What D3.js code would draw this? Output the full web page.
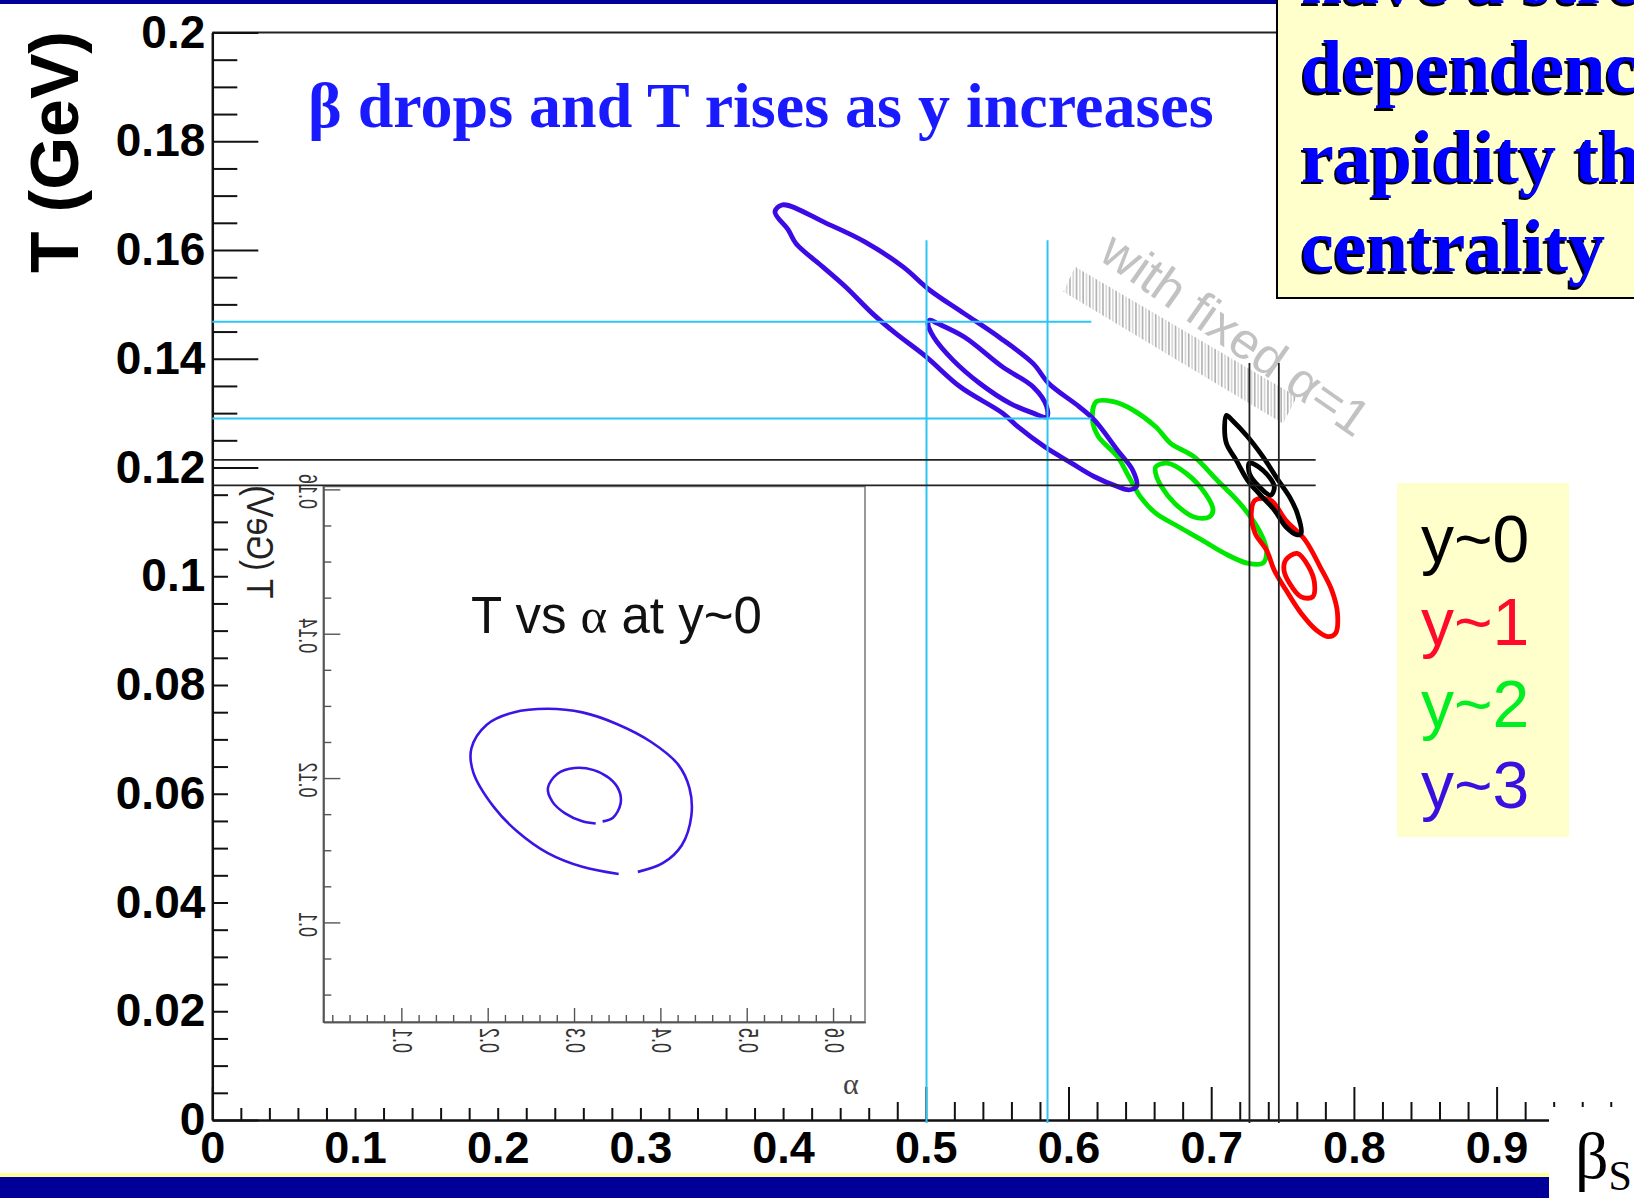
<!DOCTYPE html>
<html>
<head>
<meta charset="utf-8">
<script src="https://cdn.jsdelivr.net/npm/d3@7"></script>
<style>
  body { margin: 0; background: #fff; }
  svg { display: block; }
</style>
</head>
<body>
<div id="container"></div>
<script>
// ---- data (beta_s, T) ----
const yTickValues = [0, 0.02, 0.04, 0.06, 0.08, 0.1, 0.12, 0.14, 0.16, 0.18, 0.2];
const yTickLabels = ["0", "0.02", "0.04", "0.06", "0.08", "0.1", "0.12", "0.14", "0.16", "0.18", "0.2"];
const xTickValues = [0, 0.1, 0.2, 0.3, 0.4, 0.5, 0.6, 0.7, 0.8, 0.9];
const xTickLabels = ["0", "0.1", "0.2", "0.3", "0.4", "0.5", "0.6", "0.7", "0.8", "0.9"];

// y~3 (blue)
const y3Outer = [[0.3943,0.1670],[0.3996,0.1683],[0.4304,0.1649],[0.4573,0.1615],[0.4841,0.1569],[0.5029,0.1526],
  [0.5270,0.1483],[0.5512,0.1440],[0.5753,0.1391],[0.5860,0.1355],[0.6074,0.1312],[0.6182,0.1287],[0.6343,0.1232],
  [0.6450,0.1195],[0.6477,0.1165],[0.6423,0.1159],[0.6343,0.1165],[0.6182,0.1183],[0.6021,0.1208],[0.5833,0.1238],
  [0.5645,0.1275],[0.5538,0.1300],[0.5243,0.1348],[0.5001,0.1404],[0.4787,0.1447],[0.4627,0.1483],[0.4439,0.1532],
  [0.4278,0.1569],[0.4090,0.1612],[0.4036,0.1637]];
const y3Inner = [[0.5029,0.1471],[0.5082,0.1465],[0.5270,0.1440],[0.5538,0.1385],[0.5753,0.1348],[0.5847,0.1312],
  [0.5847,0.1293],[0.5753,0.1300],[0.5591,0.1318],[0.5377,0.1355],[0.5189,0.1398],[0.5055,0.1440],[0.5015,0.1465]];
// y~2 (green)
const y2Outer = [[0.6195,0.1321],[0.6316,0.1321],[0.6450,0.1306],[0.6611,0.1275],[0.6718,0.1244],[0.6879,0.1220],
  [0.7040,0.1177],[0.7201,0.1134],[0.7335,0.1085],[0.7388,0.1048],[0.7362,0.1024],[0.7254,0.1024],[0.7094,0.1042],
  [0.6933,0.1067],[0.6772,0.1091],[0.6611,0.1116],[0.6504,0.1146],[0.6423,0.1183],[0.6343,0.1220],[0.6209,0.1257],
  [0.6168,0.1287]];
const y2Inner = [[0.6611,0.1201],[0.6692,0.1208],[0.6826,0.1189],[0.6959,0.1152],[0.7013,0.1122],[0.6986,0.1109],
  [0.6879,0.1109],[0.6745,0.1134],[0.6651,0.1165],[0.6611,0.1189]];
// y~1 (red)
const y1Outer = [[0.7308,0.1140],[0.7416,0.1140],[0.7523,0.1103],[0.7657,0.1067],[0.7764,0.1017],[0.7844,0.0975],
  [0.7885,0.0932],[0.7871,0.0895],[0.7818,0.0889],[0.7737,0.0901],[0.7630,0.0932],[0.7523,0.0975],[0.7442,0.1011],
  [0.7388,0.1048],[0.7308,0.1079],[0.7281,0.1116]];
const y1Inner = [[0.7523,0.1030],[0.7603,0.1042],[0.7684,0.1017],[0.7724,0.0987],[0.7711,0.0962],[0.7630,0.0962],
  [0.7549,0.0987],[0.7510,0.1011]];
// y~0 (black)
const y0Outer = [[0.7107,0.1296],[0.7147,0.1287],[0.7254,0.1257],[0.7362,0.1220],[0.7469,0.1177],[0.7549,0.1146],
  [0.7603,0.1116],[0.7630,0.1079],[0.7603,0.1076],[0.7523,0.1091],[0.7442,0.1122],[0.7335,0.1152],[0.7254,0.1177],
  [0.7174,0.1214],[0.7107,0.1244],[0.7094,0.1275]];
const y0Inner = [[0.7268,0.1208],[0.7362,0.1195],[0.7442,0.1165],[0.7416,0.1149],[0.7335,0.1165],[0.7268,0.1189]];

// reference lines
const cyanT = [0.1468, 0.1290];
const cyanTEnd = 0.616;
const cyanBeta = [0.5005, 0.5853];
const cyanBetaTop = 0.1618;
const blackT = [0.1214, 0.1167];
const blackTEnd = 0.7732;
const blackBeta = [0.7268, 0.7474];
const blackBetaTop = 0.1392;

// legend
const legendLabels = ["y~0", "y~1", "y~2", "y~3"];
const legendColors = ["#000000", "#ff0a2a", "#00ee22", "#3a10e0"];

// inset: T vs alpha at y~0
const insetAlphaTicks = [0.1, 0.2, 0.3, 0.4, 0.5, 0.6];
const insetAlphaLabels = ["0.1", "0.2", "0.3", "0.4", "0.5", "0.6"];
const insetTTicks = [0.1, 0.12, 0.14, 0.16];
const insetTLabels = ["0.1", "0.12", "0.14", "0.16"];
const insetOuter = [[0.3739,0.1070],[0.4027,0.1082],[0.4248,0.1107],[0.4359,0.1148],[0.4337,0.1186],[0.4204,0.1219],
  [0.3894,0.1250],[0.3495,0.1275],[0.3096,0.1291],[0.2697,0.1296],[0.2298,0.1291],[0.1989,0.1274],[0.1811,0.1241],
  [0.1833,0.1208],[0.2077,0.1159],[0.2343,0.1126],[0.2697,0.1096],[0.3096,0.1077],[0.3517,0.1067]];
const insetInner = [[0.3331,0.1140],[0.3451,0.1145],[0.3540,0.1165],[0.3517,0.1184],[0.3406,0.1200],[0.3229,0.1211],
  [0.3008,0.1214],[0.2809,0.1206],[0.2697,0.1186],[0.2751,0.1167],[0.2897,0.1151],[0.3096,0.1140],[0.3251,0.1137]];

// annotation band (beta, T corners) and text anchor
const bandCorners = [[0.6046,0.1569],[0.7601,0.1330],[0.7503,0.1281],[0.5964,0.1523]];
const noteAnchor = [0.6200, 0.1585];

const SANS = "'Liberation Sans', Arial, Helvetica, sans-serif";
const SERIF = "'Liberation Serif', 'Times New Roman', serif";

const W = 1634, H = 1198;
const svg = d3.select('#container').append('svg').attr('width', W).attr('height', H);
svg.append('rect').attr('width', W).attr('height', H).attr('fill', '#fff');

const x = d3.scaleLinear().domain([0, 1]).range([212.3, 1639.3]);
const y = d3.scaleLinear().domain([0, 0.2]).range([1120, 32.5]);

// top navy band
svg.append('rect').attr('x', 0).attr('y', 0).attr('width', W).attr('height', 4).attr('fill', '#000099');

// frame top
svg.append('line').attr('x1', x(0)).attr('x2', x(1)).attr('y1', y(0.2)).attr('y2', y(0.2))
  .attr('stroke', '#222').attr('stroke-width', 2);

// y axis
const yMinor = d3.range(0, 0.2001, 0.005).filter(v => Math.abs(v / 0.02 - Math.round(v / 0.02)) > 0.01);
const gyMinor = svg.append('g').attr('transform', `translate(${x(0)},0)`)
  .call(d3.axisLeft(y).tickValues(yMinor).tickSizeInner(-25).tickSizeOuter(0).tickFormat(''));
gyMinor.select('.domain').remove();
const gy = svg.append('g').attr('transform', `translate(${x(0)},0)`)
  .call(d3.axisLeft(y).tickValues(yTickValues).tickSizeInner(-46).tickSizeOuter(0).tickPadding(7)
    .tickFormat((d, i) => yTickLabels[i]));
gy.selectAll('text').attr('font-family', SANS).attr('font-weight', 'bold').attr('font-size', 46).attr('fill', '#000');

// x axis
const xMinor = d3.range(0, 1.0001, 0.02).filter(v => Math.abs(v / 0.1 - Math.round(v / 0.1)) > 0.01);
const gxMinor = svg.append('g').attr('transform', `translate(0,${y(0)})`)
  .call(d3.axisBottom(x).tickValues(xMinor).tickSizeInner(-18).tickSizeOuter(0).tickFormat(''));
gxMinor.select('.domain').remove();
const gx = svg.append('g').attr('transform', `translate(0,${y(0)})`)
  .call(d3.axisBottom(x).tickValues(xTickValues).tickSizeInner(-33).tickSizeOuter(0).tickPadding(11)
    .tickFormat((d, i) => xTickLabels[i]));
gx.selectAll('text').attr('font-family', SANS).attr('font-weight', 'bold').attr('font-size', 45).attr('fill', '#000');

[gy, gx, gyMinor, gxMinor].forEach(g => {
  g.selectAll('.tick line').attr('stroke', '#111').attr('stroke-width', 2);
  g.select('.domain').attr('stroke', '#111').attr('stroke-width', 2.5);
});

// y axis title
svg.append('text').attr('transform', 'translate(78,152) rotate(-90)')
  .attr('text-anchor', 'middle').attr('font-family', SANS).attr('font-weight', 'bold')
  .attr('font-size', 68).text('T (GeV)');

// ---- inset ----
svg.append('rect').attr('x', 228).attr('y', 487).attr('width', 652).attr('height', 621).attr('fill', '#fff');
const xi = d3.scaleLinear().domain([0.0096, 0.637]).range([323.3, 865]);
const ti = d3.scaleLinear().domain([0.0862, 0.1604]).range([1022, 486.5]);

svg.append('rect').attr('x', xi(0.0096)).attr('y', ti(0.1604))
  .attr('width', xi(0.637) - xi(0.0096)).attr('height', ti(0.0862) - ti(0.1604))
  .attr('fill', 'none').attr('stroke', '#777').attr('stroke-width', 1.5);

const aMinor = d3.range(0.02, 0.63, 0.02).filter(v => Math.abs(v / 0.1 - Math.round(v / 0.1)) > 0.01);
const tMinor = d3.range(0.09, 0.1601, 0.005).filter(v => Math.abs(v / 0.02 - Math.round(v / 0.02)) > 0.01);
const insetAxes = [
  svg.append('g').attr('transform', `translate(0,${ti(0.0862)})`)
    .call(d3.axisBottom(xi).tickValues(aMinor).tickSizeInner(-7).tickSizeOuter(0).tickFormat('')),
  svg.append('g').attr('transform', `translate(0,${ti(0.0862)})`)
    .call(d3.axisBottom(xi).tickValues(insetAlphaTicks).tickSizeInner(-14).tickSizeOuter(0).tickFormat('')),
  svg.append('g').attr('transform', `translate(${xi(0.0096)},0)`)
    .call(d3.axisLeft(ti).tickValues(tMinor).tickSizeInner(-8).tickSizeOuter(0).tickFormat('')),
  svg.append('g').attr('transform', `translate(${xi(0.0096)},0)`)
    .call(d3.axisLeft(ti).tickValues(insetTTicks).tickSizeInner(-17).tickSizeOuter(0).tickFormat(''))
];
insetAxes.forEach(g => {
  g.selectAll('.tick line').attr('stroke', '#555').attr('stroke-width', 1.4);
  g.select('.domain').attr('stroke', '#555').attr('stroke-width', 1.6);
});

// mirrored (transposed) labels of the pasted inset picture
svg.append('g').selectAll('text').data(insetAlphaTicks).join('text')
  .attr('transform', d => `matrix(0,-1,-1.5,0,${xi(d) - 8},1040.5)`)
  .attr('text-anchor', 'middle').attr('font-family', SANS).attr('font-size', 18).attr('fill', '#333')
  .text((d, i) => insetAlphaLabels[i]);
svg.append('g').selectAll('text').data(insetTTicks).join('text')
  .attr('transform', d => `matrix(0,-1,-1.4,0,299,${ti(d) + 2})`)
  .attr('text-anchor', 'middle').attr('font-family', SANS).attr('font-size', 18).attr('fill', '#333')
  .text((d, i) => insetTLabels[i]);
svg.append('text').attr('transform', 'matrix(0,-1,-1.15,0,247,542)')
  .attr('text-anchor', 'middle').attr('font-family', SANS).attr('font-size', 32).attr('fill', '#222')
  .text('T (GeV)');
svg.append('text').attr('x', 843).attr('y', 1094).attr('font-family', SERIF).attr('font-size', 30)
  .attr('fill', '#444').text('α');
const insetTitle = svg.append('text').attr('x', 471).attr('y', 633).attr('font-family', SANS).attr('font-size', 51)
  .attr('fill', '#111');
insetTitle.append('tspan').text('T vs ');
insetTitle.append('tspan').attr('font-family', SERIF).text('α');
insetTitle.append('tspan').text(' at y~0');

const insetLine = d3.line().x(d => xi(d[0])).y(d => ti(d[1])).curve(d3.curveCatmullRom.alpha(0.5));
[insetOuter, insetInner].forEach(c => {
  svg.append('path').attr('d', insetLine(c)).attr('fill', 'none')
    .attr('stroke', '#3c14e6').attr('stroke-width', 2.6);
});

// ---- annotation: with fixed alpha=1 ----
const bandPts = bandCorners.map(d => [x(d[0]), y(d[1])]);
svg.append('clipPath').attr('id', 'bandClip').append('polygon').attr('points', bandPts.map(p => p.join(',')).join(' '));
const bx0 = d3.min(bandPts, p => p[0]), bx1 = d3.max(bandPts, p => p[0]);
const by0 = d3.min(bandPts, p => p[1]), by1 = d3.max(bandPts, p => p[1]);
svg.append('g').attr('clip-path', 'url(#bandClip)').selectAll('line')
  .data(d3.range(bx0, bx1, 3.3)).join('line')
  .attr('x1', d => d).attr('x2', d => d).attr('y1', by0).attr('y2', by1)
  .attr('stroke', (d, i) => i % 2 ? '#d6d6d6' : '#b4b4b4').attr('stroke-width', 1.7);
svg.append('text').attr('transform', `translate(${x(noteAnchor[0])},${y(noteAnchor[1])}) rotate(35)`)
  .attr('font-family', SANS).attr('font-size', 51).attr('fill', '#c2c2c2').text('with fixed α=1');

// ---- contours ----
const contourLine = d3.line().x(d => x(d[0])).y(d => y(d[1])).curve(d3.curveCatmullRomClosed.alpha(0.5));
const contours = [
  { pts: y2Outer, color: '#00e800' }, { pts: y2Inner, color: '#00e800' },
  { pts: y3Outer, color: '#3d0ae6' }, { pts: y3Inner, color: '#3d0ae6' },
  { pts: y1Outer, color: '#ff0000' }, { pts: y1Inner, color: '#ff0000' },
  { pts: y0Outer, color: '#000000' }, { pts: y0Inner, color: '#000000' }
];
svg.append('g').selectAll('path').data(contours).join('path')
  .attr('d', d => contourLine(d.pts)).attr('fill', 'none')
  .attr('stroke', d => d.color).attr('stroke-width', 4.8).attr('stroke-linejoin', 'round');

// ---- reference lines ----
const refs = svg.append('g');
cyanT.forEach(t => refs.append('line').attr('x1', x(0)).attr('x2', x(cyanTEnd)).attr('y1', y(t)).attr('y2', y(t))
  .attr('stroke', '#2ec5f5').attr('stroke-width', 2));
cyanBeta.forEach(b => refs.append('line').attr('x1', x(b)).attr('x2', x(b)).attr('y1', y(0) + 3).attr('y2', y(cyanBetaTop))
  .attr('stroke', '#2ec5f5').attr('stroke-width', 2));
blackT.forEach(t => refs.append('line').attr('x1', x(0)).attr('x2', x(blackTEnd)).attr('y1', y(t)).attr('y2', y(t))
  .attr('stroke', '#222').attr('stroke-width', 1.8));
blackBeta.forEach(b => refs.append('line').attr('x1', x(b)).attr('x2', x(b)).attr('y1', y(0) + 3).attr('y2', y(blackBetaTop))
  .attr('stroke', '#222').attr('stroke-width', 1.8));

// ---- title ----
svg.append('text').attr('x', 308).attr('y', 127).attr('font-family', SERIF).attr('font-weight', 'bold')
  .attr('font-size', 64).attr('fill', '#1a1aff').text('β drops and T rises as y increases');

// ---- legend ----
svg.append('rect').attr('x', 1397).attr('y', 483).attr('width', 172).attr('height', 354).attr('fill', '#ffffcc');
const legendY = [562, 645, 727, 808];
svg.append('g').selectAll('text').data(legendLabels).join('text')
  .attr('x', 1421).attr('y', (d, i) => legendY[i]).attr('font-family', SANS).attr('font-size', 66)
  .attr('fill', (d, i) => legendColors[i]).text(d => d);

// ---- note box upper right ----
svg.append('rect').attr('x', 1277).attr('y', -5).attr('width', 400).attr('height', 303)
  .attr('fill', '#ffffcc').attr('stroke', '#000').attr('stroke-width', 2);
const noteLines = ['have a stronger', 'dependence on', 'rapidity than', 'centrality'];
const noteY = [3, 92, 181.5, 271];
['#000', '#0000ff'].forEach((c, k) => {
  svg.append('g').selectAll('text').data(noteLines).join('text')
    .attr('x', 1301 - (k ? 0 : 2)).attr('y', (d, i) => noteY[i] + (k ? 0 : 2.5))
    .attr('font-family', SERIF).attr('font-weight', 'bold').attr('font-size', 74)
    .attr('fill', c).text(d => d);
});

// ---- bottom band and beta_s label ----
svg.append('rect').attr('x', 0).attr('y', 1173).attr('width', W).attr('height', 4).attr('fill', '#ffff99');
svg.append('rect').attr('x', 0).attr('y', 1177).attr('width', W).attr('height', 21).attr('fill', '#000099');
svg.append('rect').attr('x', 1549).attr('y', 1107).attr('width', W - 1549).attr('height', H - 1107).attr('fill', '#fff');
const bs = svg.append('text').attr('x', 1575).attr('y', 1178).attr('font-family', SERIF).attr('fill', '#000');
bs.append('tspan').attr('font-size', 66).text('β');
bs.append('tspan').attr('font-size', 42).attr('dy', 12).text('S');
</script>
</body>
</html>
